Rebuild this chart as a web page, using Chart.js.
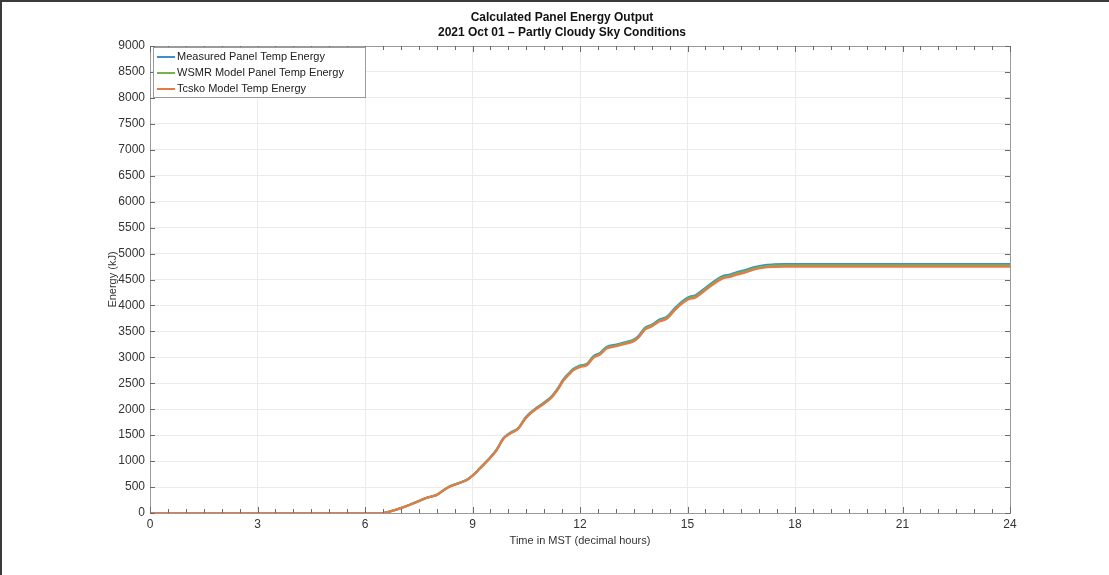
<!DOCTYPE html>
<html>
<head>
<meta charset="utf-8">
<script src="https://cdn.jsdelivr.net/npm/chart.js@4/dist/chart.umd.min.js"></script>
<style>
  html, body { margin: 0; padding: 0; background: #fff; }
  #wrap { width: 1109px; height: 575px; position: relative; }
</style>
</head>
<body>
<div id="wrap"><canvas id="myChart" width="1109" height="575"></canvas></div>
<script>
// time of day, decimal hours (MST)
var hours = [0, 6.5, 6.75, 7.0, 7.25, 7.5, 7.7, 7.86, 8.0, 8.15,
  8.33, 8.56, 8.84, 9.02, 9.2, 9.44, 9.67, 9.86, 10.05, 10.28,
  10.47, 10.6, 10.79, 11.0, 11.21, 11.38, 11.53, 11.7, 11.81, 12.0,
  12.2, 12.37, 12.56, 12.74, 13.02, 13.25, 13.49, 13.63, 13.81, 14.0,
  14.21, 14.42, 14.65, 14.88, 15.07, 15.21, 15.53, 15.81, 16.0, 16.19,
  16.37, 16.56, 16.84, 17.12, 17.4, 17.7, 24];

// cumulative energy, kJ
var measured = [0, 0, 40, 95, 160, 230, 290, 320, 350, 420,
  500, 565, 640, 735, 860, 1030, 1220, 1440, 1545, 1640,
  1830, 1925, 2030, 2130, 2250, 2400, 2570, 2700, 2775, 2840,
  2880, 3020, 3085, 3200, 3245, 3290, 3340, 3410, 3570, 3630,
  3725, 3780, 3950, 4095, 4170, 4190, 4355, 4495, 4570, 4595,
  4640, 4670, 4735, 4775, 4790, 4795, 4795];

var wsmr = [0, 0, 40, 94, 159, 229, 288, 318, 348, 418,
  497, 562, 637, 731, 856, 1025, 1214, 1433, 1537, 1632,
  1821, 1915, 2020, 2119, 2239, 2388, 2557, 2686, 2761, 2826,
  2866, 3005, 3070, 3184, 3229, 3274, 3323, 3393, 3552, 3612,
  3706, 3761, 3930, 4075, 4149, 4169, 4333, 4473, 4547, 4572,
  4617, 4647, 4711, 4751, 4766, 4771, 4771];

var tcsko = [0, 0, 39, 94, 158, 228, 287, 317, 347, 416,
  495, 559, 634, 728, 851, 1020, 1208, 1426, 1530, 1624,
  1812, 1906, 2010, 2109, 2228, 2376, 2544, 2673, 2747, 2812,
  2851, 2990, 3054, 3168, 3213, 3257, 3307, 3376, 3534, 3594,
  3688, 3742, 3911, 4054, 4128, 4148, 4311, 4450, 4524, 4549,
  4594, 4623, 4688, 4727, 4742, 4747, 4747];

var titleLines = ['Calculated Panel Energy Output', '2021 Oct 01 \u2013 Partly Cloudy Sky Conditions'];
var xTitle = 'Time in MST (decimal hours)';
var yTitle = 'Energy (kJ)';

var FONT = '"Liberation Sans", Arial, Helvetica, sans-serif';

function toPoints(vals) {
  return hours.map(function(h, i) { return { x: h, y: vals[i] }; });
}

// box, inward ticks, titles and legend drawn around the plot
var matlabAxes = {
  id: 'matlabAxes',
  beforeDraw: function(chart) {
    var c = chart.ctx;
    c.save();
    c.fillStyle = '#ffffff';
    c.fillRect(0, 0, chart.width, chart.height);
    c.restore();
  },
  afterDraw: function(chart) {
    var c = chart.ctx, a = chart.chartArea;
    var xs = chart.scales.x, ys = chart.scales.y;
    c.save();

    // outer frame (top and left edge)
    c.strokeStyle = '#3a3a3a';
    c.lineWidth = 2;
    c.beginPath();
    c.moveTo(1, chart.height);
    c.lineTo(1, 1);
    c.lineTo(chart.width, 1);
    c.stroke();

    // axes box
    c.strokeStyle = '#9a9a9a';
    c.lineWidth = 1;
    c.strokeRect(a.left + 0.5, a.top + 0.5, a.right - a.left, a.bottom - a.top);

    // x ticks: minor every half hour, major every 3 h
    c.strokeStyle = '#6a6a6a';
    c.beginPath();
    for (var t = 0; t <= 24; t += 0.5) {
      var px = Math.round(xs.getPixelForValue(t)) + 0.5;
      var len = (t % 3 === 0) ? 6 : 4;
      c.moveTo(px, a.bottom); c.lineTo(px, a.bottom - len);
      c.moveTo(px, a.top); c.lineTo(px, a.top + len);
    }
    // y ticks
    for (var v = 0; v <= 9000; v += 500) {
      var py = Math.round(ys.getPixelForValue(v)) + 0.5;
      c.moveTo(a.left, py); c.lineTo(a.left + 5, py);
      c.moveTo(a.right, py); c.lineTo(a.right - 5, py);
    }
    c.stroke();

    // title
    c.fillStyle = '#111';
    c.font = 'bold 12px ' + FONT;
    c.textAlign = 'center';
    c.textBaseline = 'middle';
    c.fillText(titleLines[0], 562, 18);
    c.fillText(titleLines[1], 562, 33);

    // axis titles
    c.fillStyle = '#333';
    c.font = '11px ' + FONT;
    c.fillText(xTitle, (a.left + a.right) / 2, 541);
    c.save();
    c.translate(113, (a.top + a.bottom) / 2);
    c.rotate(-Math.PI / 2);
    c.fillText(yTitle, 0, 0);
    c.restore();

    // legend box
    var lx = a.left + 3, ly = a.top + 1, lw = 212, lh = 50;
    c.fillStyle = '#ffffff';
    c.fillRect(lx, ly, lw, lh);
    c.strokeStyle = '#9a9a9a';
    c.lineWidth = 1;
    c.strokeRect(lx + 0.5, ly + 0.5, lw, lh);
    c.font = '11px ' + FONT;
    c.textAlign = 'left';
    chart.data.datasets.forEach(function(ds, i) {
      var yy = ly + 10 + i * 16;
      c.strokeStyle = ds.borderColor;
      c.lineWidth = 2;
      c.beginPath();
      c.moveTo(lx + 4, yy); c.lineTo(lx + 22, yy);
      c.stroke();
      c.fillStyle = '#222';
      c.fillText(ds.label, lx + 24, yy);
    });
    c.restore();
  }
};

var myChart = new Chart(document.getElementById('myChart'), {
  type: 'line',
  data: {
    datasets: [
      {
        label: 'Measured Panel Temp Energy',
        data: toPoints(measured),
        borderColor: '#3d8fcf',
        borderWidth: 2.2,
        pointRadius: 0,
        cubicInterpolationMode: 'monotone',
        order: 3
      },
      {
        label: 'WSMR Model Panel Temp Energy',
        data: toPoints(wsmr),
        borderColor: '#79b24a',
        borderWidth: 2.2,
        pointRadius: 0,
        cubicInterpolationMode: 'monotone',
        order: 2
      },
      {
        label: 'Tcsko Model Temp Energy',
        data: toPoints(tcsko),
        borderColor: '#e27b45',
        borderWidth: 2.2,
        pointRadius: 0,
        cubicInterpolationMode: 'monotone',
        order: 1
      }
    ]
  },
  options: {
    responsive: false,
    animation: false,
    layout: { padding: { top: 46, right: 99, left: 0, bottom: 0 } },
    plugins: {
      legend: { display: false },
      tooltip: { enabled: false }
    },
    scales: {
      x: {
        type: 'linear',
        min: 0, max: 24,
        ticks: { stepSize: 3, padding: 4, color: '#333', font: { family: FONT, size: 12 } },
        grid: { color: '#ebebeb', drawTicks: false },
        border: { display: false },
        afterFit: function(s) { s.height = 62; }
      },
      y: {
        min: 0, max: 9000,
        ticks: {
          stepSize: 500, padding: 5, color: '#333', font: { family: FONT, size: 12 },
          callback: function(v) { return String(v); }
        },
        grid: { color: '#ebebeb', drawTicks: false },
        border: { display: false },
        afterFit: function(s) { s.width = 150; }
      }
    }
  },
  plugins: [matlabAxes]
});
</script>
</body>
</html>
